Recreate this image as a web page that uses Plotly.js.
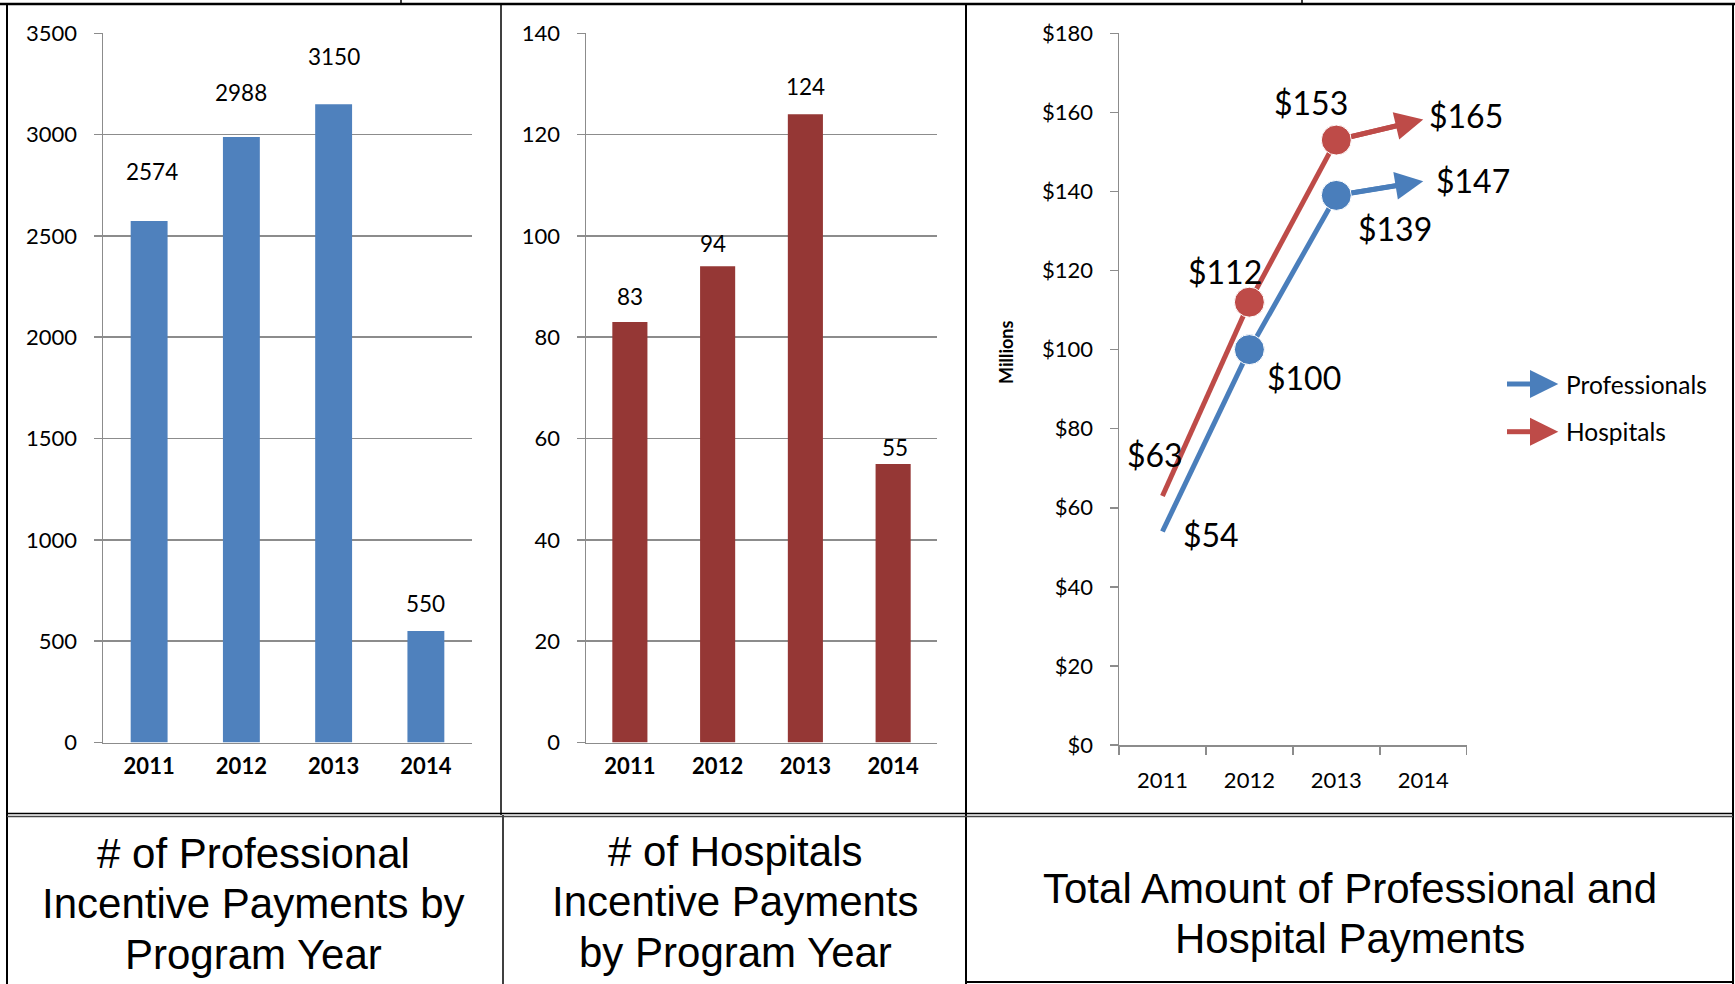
<!DOCTYPE html>
<html>
<head>
<meta charset="utf-8">
<script src="https://cdn.plot.ly/plotly-3.0.1.min.js"></script>
<style>
html,body{margin:0;padding:0;background:#ffffff;overflow:hidden;}
#chart{width:1735px;height:984px;}
</style>
</head>
<body>
<div id="chart"></div>
<script>
// ---------------- DATA ----------------
const years = ['2011', '2012', '2013', '2014'];
const professionalPaymentCounts = [2574, 2988, 3150, 550];
const hospitalPaymentCounts = [83, 94, 124, 55];
// Total amounts in $ millions, as the lines are drawn
const professionalAmounts = [54, 100, 139, 142.6];
const hospitalAmounts = [63, 112, 153, 158.2];
// Data label texts as printed on the chart
const professionalAmountLabels = ['$54', '$100', '$139', '$147'];
const hospitalAmountLabels = ['$63', '$112', '$153', '$165'];
const seriesNames = ['Professionals', 'Hospitals'];
const yAxisTitle3 = 'Millions';
const panelTitle1 = ['# of Professional', 'Incentive Payments by', 'Program Year'];
const panelTitle2 = ['# of Hospitals', 'Incentive Payments', 'by Program Year'];
const panelTitle3 = ['Total Amount of Professional and', 'Hospital Payments'];

// ---------------- STYLE / LAYOUT ----------------
const W = 1735, H = 984;
const px = v => v / W;
const py = v => 1 - v / H;
const GRID = '#8c8c8c';
const BLUE_BAR = '#4F81BD';
const RED_BAR = '#953735';
const BLUE_LINE = '#4A7EBB';
const RED_LINE = '#BE4B48';
const CHART_FONT = 'Lato, "Open Sans", sans-serif';
const TITLE_FONT = 'Arial, "Liberation Sans", sans-serif';

// label pixel offsets (style only)
const barLabelShift1 = [[3, 49], [0, 45], [0, 48], [0, 28]];
const barLabelShift2 = [[0, 26], [-5, 23], [0, 28], [1.5, 16]];
const profLabelShift = [[49, -3.5], [55, -28], [59, -33], [50, 1]];
const hospLabelShift = [[-7, 41], [-24, 31], [-25, 38], [43, 4]];

function lineTrace(name, values, color) {
  return {
    type: 'scatter', mode: 'lines+markers', name: name,
    x: years, y: values, xaxis: 'x3', yaxis: 'y3',
    line: {color: color, width: 5},
    marker: {color: color, size: [0, 30, 30, 12], opacity: [1, 1, 1, 0],
             symbol: ['circle', 'circle', 'circle', 'arrow'], angleref: 'previous'},
    showlegend: false, cliponaxis: false
  };
}

const traces = [
  {
    type: 'bar', x: years, y: professionalPaymentCounts,
    xaxis: 'x', yaxis: 'y',
    marker: {color: BLUE_BAR}, hoverinfo: 'x+y', showlegend: false
  },
  {
    type: 'bar', x: years, y: hospitalPaymentCounts,
    xaxis: 'x2', yaxis: 'y2',
    marker: {color: RED_BAR}, hoverinfo: 'x+y', showlegend: false
  },
  lineTrace(seriesNames[0], professionalAmounts, BLUE_LINE),
  lineTrace(seriesNames[1], hospitalAmounts, RED_LINE)
];

const annotations = [];
function addLabels(xref, yref, values, texts, shifts, size) {
  values.forEach((v, i) => {
    annotations.push({
      xref: xref, yref: yref, x: i, y: v, text: texts[i],
      showarrow: false, xanchor: 'center', yanchor: 'middle',
      xshift: shifts[i][0], yshift: shifts[i][1],
      font: {family: CHART_FONT, size: size, color: '#000'}
    });
  });
}
addLabels('x', 'y', professionalPaymentCounts, professionalPaymentCounts.map(String), barLabelShift1, 22.5);
addLabels('x2', 'y2', hospitalPaymentCounts, hospitalPaymentCounts.map(String), barLabelShift2, 22.5);
addLabels('x3', 'y3', professionalAmounts, professionalAmountLabels, profLabelShift, 32);
addLabels('x3', 'y3', hospitalAmounts, hospitalAmountLabels, hospLabelShift, 32);

// arrowheads on the last segment of each line (from the data, through the axes)
[[professionalAmounts, BLUE_LINE], [hospitalAmounts, RED_LINE]].forEach(([vals, color]) => {
  const n = vals.length - 1;
  annotations.push({
    xref: 'x3', yref: 'y3', axref: 'x3', ayref: 'y3',
    x: n, y: vals[n], ax: n - 1, ay: vals[n - 1], text: '',
    showarrow: true, arrowhead: 2, arrowsize: 1.12, arrowwidth: 5, arrowcolor: color,
    startstandoff: 14, standoff: 0
  });
});

// y-axis title of line chart
annotations.push({
  xref: 'paper', yref: 'paper', x: px(1006), y: py(352), text: '<b>' + yAxisTitle3 + '</b>',
  textangle: -90, showarrow: false, xanchor: 'center', yanchor: 'middle',
  font: {family: CHART_FONT, size: 18, color: '#000'}
});

// legend text
const legendY = [384, 431.7];
const legendColors = [BLUE_LINE, RED_LINE];
seriesNames.forEach((n, i) => {
  annotations.push({
    xref: 'paper', yref: 'paper', x: px(1564), y: py(legendY[i]), text: n,
    showarrow: false, xanchor: 'left', yanchor: 'middle',
    font: {family: CHART_FONT, size: 24.5, color: '#000'}
  });
});

// panel titles in bottom row
function addTitle(lines, cx, ys) {
  lines.forEach((t, i) => {
    annotations.push({
      xref: 'paper', yref: 'paper', x: px(cx), y: py(ys[i]), text: t,
      showarrow: false, xanchor: 'center', yanchor: 'middle',
      font: {family: TITLE_FONT, size: 42, color: '#000'}
    });
  });
}
addTitle(panelTitle1, 254, [853, 903, 954]);
addTitle(panelTitle2, 735, [851, 901, 952]);
addTitle(panelTitle3, 1350, [888, 938]);

// table borders and legend glyphs
const shapes = [];
function hline(y, x0, x1, w, c) {
  shapes.push({type: 'line', xref: 'paper', yref: 'paper', x0: px(x0), x1: px(x1), y0: py(y), y1: py(y),
               line: {color: c || '#000', width: w}});
}
function vline(x, y0, y1, w, c) {
  shapes.push({type: 'line', xref: 'paper', yref: 'paper', x0: px(x), x1: px(x), y0: py(y0), y1: py(y1),
               line: {color: c || '#000', width: w}});
}
hline(4, 0, 1735, 2.5);
vline(401, 0, 4, 1.5);
vline(1302, 0, 4, 1.5);
vline(7, 4, 984, 2);
vline(501, 4, 815, 1.5);
vline(503, 815, 984, 1.5);
vline(966, 4, 984, 2);
vline(1733, 4, 984, 2);
hline(813.5, 7, 1733, 1.5);
hline(816.5, 7, 1733, 1.5, '#444');
hline(982, 966, 1733, 2);

legendY.forEach((y, i) => {
  hline(y, 1507, 1532, 5, legendColors[i]);
  shapes.push({type: 'path', xref: 'paper', yref: 'paper',
    path: 'M ' + px(1530) + ' ' + py(y - 14) + ' L ' + px(1558.3) + ' ' + py(y) + ' L ' + px(1530) + ' ' + py(y + 14) + ' Z',
    fillcolor: legendColors[i], line: {width: 0}});
});

const catAxisBase = {
  type: 'category', showgrid: false, zeroline: false, fixedrange: true,
  showline: true, linecolor: GRID, linewidth: 1.5, range: [-0.5, 3.5]
};
const valAxisBase = {
  showgrid: true, gridcolor: GRID, gridwidth: 1.5, zeroline: false, fixedrange: true,
  showline: true, linecolor: GRID, linewidth: 1.5,
  ticks: 'outside', ticklen: 8, tickcolor: GRID, tickwidth: 1.5,
  tickfont: {family: CHART_FONT, size: 22, color: '#000'}, ticklabelstandoff: 12
};

const layout = {
  width: W, height: H,
  margin: {l: 0, r: 0, t: 0, b: 0, pad: 0},
  paper_bgcolor: '#ffffff', plot_bgcolor: 'rgba(0,0,0,0)',
  font: {family: CHART_FONT, color: '#000'},
  showlegend: false, bargap: 0.6,
  xaxis: Object.assign({}, catAxisBase, {
    domain: [px(103), px(472)], anchor: 'y', ticks: '',
    tickfont: {family: CHART_FONT, size: 22, color: '#000', weight: 'bold'}, ticklabelstandoff: 4
  }),
  yaxis: Object.assign({}, valAxisBase, {
    domain: [py(742.5), py(33.3)], anchor: 'x', range: [0, 3500], tick0: 0, dtick: 500
  }),
  xaxis2: Object.assign({}, catAxisBase, {
    domain: [px(586), px(937)], anchor: 'y2', ticks: '',
    tickfont: {family: CHART_FONT, size: 22, color: '#000', weight: 'bold'}, ticklabelstandoff: 4
  }),
  yaxis2: Object.assign({}, valAxisBase, {
    domain: [py(742.5), py(33.3)], anchor: 'x2', range: [0, 140], tick0: 0, dtick: 20
  }),
  xaxis3: Object.assign({}, catAxisBase, {
    domain: [px(1119), px(1466.7)], anchor: 'y3',
    ticks: 'outside', tickson: 'boundaries', ticklen: 8, tickcolor: GRID, tickwidth: 1.5,
    tickfont: {family: CHART_FONT, size: 22, color: '#000'}, ticklabelstandoff: 15
  }),
  yaxis3: Object.assign({}, valAxisBase, {
    domain: [py(745), py(33.3)], anchor: 'x3', range: [0, 180], tick0: 0, dtick: 20,
    tickprefix: '$', showgrid: false
  }),
  annotations: annotations,
  shapes: shapes
};

Plotly.newPlot('chart', traces, layout, {displayModeBar: false, staticPlot: true});
</script>
</body>
</html>
